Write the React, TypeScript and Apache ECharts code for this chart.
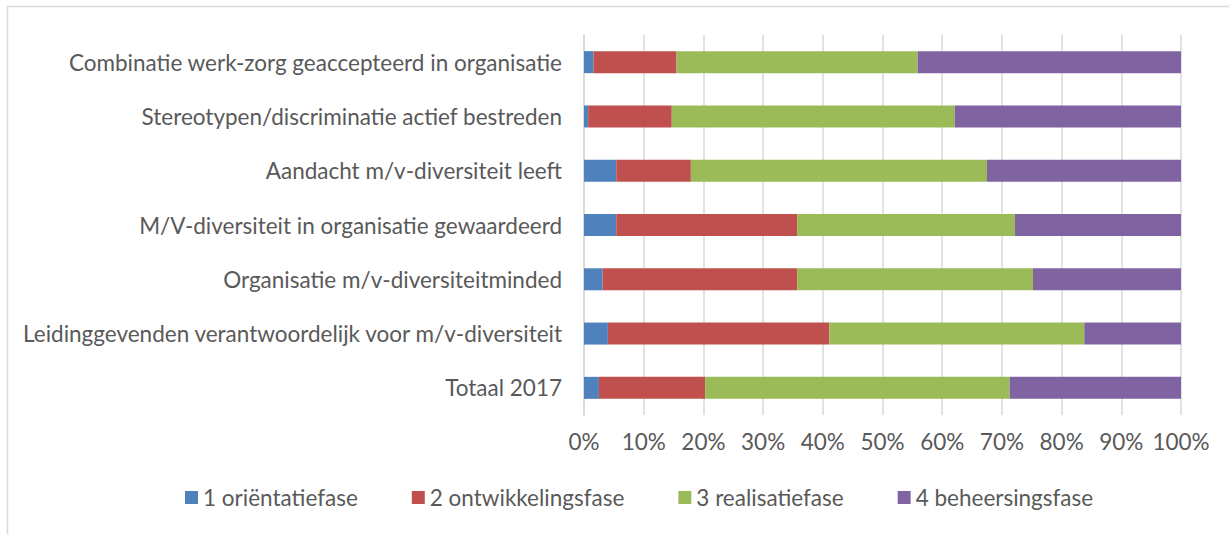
import React, { useEffect, useRef } from "react";
import * as echarts from "echarts";

const categories = [
  "Combinatie werk-zorg geaccepteerd in organisatie",
  "Stereotypen/discriminatie actief bestreden",
  "Aandacht m/v-diversiteit leeft",
  "M/V-diversiteit in organisatie gewaardeerd",
  "Organisatie m/v-diversiteitminded",
  "Leidinggevenden verantwoordelijk voor m/v-diversiteit",
  "Totaal 2017",
];
const seriesNames = ["1 oriëntatiefase", "2 ontwikkelingsfase", "3 realisatiefase", "4 beheersingsfase"];
const orientatie = [1.6, 0.7, 5.4, 5.4, 3.1, 4.0, 2.5];
const ontwikkeling = [13.9, 14.0, 12.5, 30.3, 32.6, 37.1, 17.8];
const realisatie = [40.4, 47.4, 49.6, 36.5, 39.5, 42.7, 51.0];
const beheersing = [44.1, 37.9, 32.5, 27.8, 24.8, 16.2, 28.7];
const colors = ["#4F81BD", "#C0504D", "#9BBB59", "#8064A2"];

export default function App() {
  const ref = useRef<HTMLDivElement>(null);
  useEffect(() => {
    if (!ref.current) return;
    const chart = echarts.init(ref.current, null, { renderer: "svg" });
    const data = [orientatie, ontwikkeling, realisatie, beheersing];
    const font = "Lato, 'Open Sans', sans-serif";
    const fs = 22.5;
    chart.setOption({
      animation: false,
      backgroundColor: "#ffffff",
      textStyle: { fontFamily: font },
      graphic: [
        {
          type: "rect",
          shape: { x: 7.5, y: 6.5, width: 1240, height: 540 },
          style: { fill: "none", stroke: "#d9d9d9", lineWidth: 1.5 },
          silent: true,
        },
      ],
      grid: { left: 584, right: 48, top: 35, bottom: 119, containLabel: false },
      legend: {
        top: 481,
        left: 180,
        itemWidth: 13,
        itemHeight: 13,
        itemGap: 54,
        icon: "rect",
        textStyle: { color: "#595959", fontSize: fs, fontFamily: font },
        data: seriesNames,
      },
      xAxis: {
        type: "value",
        min: 0,
        max: 100,
        interval: 10,
        axisLabel: {
          formatter: "{value}%",
          color: "#595959",
          fontSize: fs,
          margin: 15,
          fontFamily: font,
        },
        axisLine: { show: false },
        axisTick: { show: false },
        splitLine: { show: true, lineStyle: { color: "#d9d9d9", width: 1.5 } },
      },
      yAxis: {
        type: "category",
        inverse: true,
        data: categories,
        axisLabel: { color: "#595959", fontSize: fs, margin: 22, fontFamily: font },
        axisLine: { show: true, lineStyle: { color: "#d9d9d9", width: 1.5 } },
        axisTick: { show: false },
      },
      series: seriesNames.map((name, i) => ({
        name,
        type: "bar",
        stack: "total",
        barWidth: 22,
        data: data[i],
        itemStyle: { color: colors[i] },
      })),
    });
    return () => chart.dispose();
  }, []);
  return (
    <div
      ref={ref}
      style={{ position: "fixed", left: 0, top: 0, width: 1229, height: 534 }}
    />
  );
}
